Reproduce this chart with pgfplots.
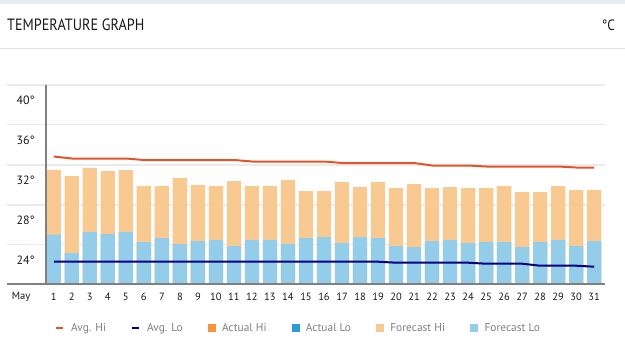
\documentclass[border=0pt]{standalone}
\usepackage{graphicx}
\usepackage{pgfplots}
\pgfplotsset{compat=1.18}
\usepackage{pgfplotstable}
\usepackage{fontspec}
\setmainfont{PT Sans}
\definecolor{hiC}{HTML}{F8C991}
\definecolor{loC}{HTML}{93CDEA}
\definecolor{avghiC}{HTML}{E5532A}
\definecolor{avgloC}{HTML}{000080}
\definecolor{acthiC}{HTML}{F7943C}
\definecolor{actloC}{HTML}{2E9AD0}
\definecolor{gridC}{HTML}{EBEBEB}
\definecolor{axisC}{HTML}{808080}
\definecolor{legC}{HTML}{808080}
\definecolor{bandC}{HTML}{E6ECF2}
\definecolor{sepC}{HTML}{E0E0E0}

\pgfplotstableread{
day hi lo avghi avglo
1 33.05 26.60 34.40 23.88
2 32.45 24.75 34.20 23.88
3 33.25 26.85 34.20 23.88
4 32.95 26.65 34.20 23.88
5 33.05 26.85 34.20 23.88
6 31.45 25.85 34.05 23.88
7 31.45 26.25 34.05 23.88
8 32.25 25.65 34.05 23.88
9 31.55 25.95 34.05 23.88
10 31.45 26.05 34.05 23.88
11 31.95 25.45 34.05 23.88
12 31.45 26.05 33.90 23.88
13 31.45 26.05 33.90 23.88
14 32.05 25.65 33.90 23.88
15 30.95 26.25 33.90 23.88
16 30.95 26.35 33.90 23.88
17 31.85 25.75 33.75 23.88
18 31.35 26.35 33.75 23.88
19 31.85 26.25 33.75 23.88
20 31.25 25.45 33.75 23.78
21 31.65 25.35 33.75 23.78
22 31.25 25.95 33.50 23.78
23 31.35 26.05 33.50 23.78
24 31.25 25.75 33.50 23.78
25 31.25 25.85 33.40 23.68
26 31.45 25.85 33.40 23.68
27 30.85 25.35 33.40 23.68
28 30.85 25.85 33.40 23.48
29 31.45 26.05 33.40 23.48
30 31.05 25.45 33.30 23.48
31 31.05 25.95 33.30 23.38
}\temps

\begin{document}
\begin{tikzpicture}[x=1bp,y=1bp]
\path[use as bounding box] (0,0) rectangle (625,353);
% header
\fill[bandC] (0,349) rectangle (625,353);
\node[anchor=west, inner sep=0pt, text=black!90] at (7,328) {\scalebox{1}[1.15]{\fontsize{14.2bp}{16bp}\selectfont TEMPERATURE GRAPH}};
\node[anchor=east, inner sep=0pt, text=black!90] at (615,328) {\scalebox{1}[1.15]{\fontsize{13bp}{15bp}\selectfont °C}};
\draw[sepC, line width=1bp] (0,304.3) -- (625,304.3);
% grid lines
\foreach \yy in {268,228.7,188,148,108.7}{\draw[gridC, line width=1.5bp] (7,\yy) -- (605,\yy);}
\node[anchor=center, inner sep=0pt, text=black!90] at (21,56) {\fontsize{10.5bp}{12bp}\selectfont May};
\begin{axis}[
  at={(45.5bp,68.7bp)}, anchor=south west,
  width=559.5bp, height=199.3bp, scale only axis,
  xmin=0.54, xmax=31.6, ymin=21.62, ymax=41.55,
  axis line style={draw=none},
  major tick length=0pt,
  xtick={1,...,31},
  ytick={24,28,32,36,40},
  yticklabels={24°,28°,32°,36°,40°},
  /pgf/number format/assume math mode=true,
  xticklabel style={inner sep=0pt, anchor=north, yshift=-8.5bp, font=\fontsize{10.5bp}{12bp}\selectfont, text=black!90},
  yticklabel style={inner sep=0pt, anchor=east, xshift=-10.5bp, font=\fontsize{12bp}{14bp}\selectfont, text=black!90},
  legend columns=6,
  legend style={at={(0.017,-0.219)}, anchor=west, draw=none, fill=none, inner sep=0pt,
    font=\fontsize{11.4bp}{13bp}\selectfont, text=legC,
    /tikz/every odd column/.append style={column sep=5bp},
    /tikz/every even column/.append style={column sep=23bp}},
  legend cell align=left,
]
\addplot[ybar, bar width=14.3bp, bar shift=0pt, fill=hiC, draw=none, forget plot] table[x=day,y=hi]{\temps};
\addplot[ybar, bar width=14.3bp, bar shift=0pt, fill=loC, draw=none, forget plot] table[x=day,y=lo]{\temps};
\addplot[avghiC, line width=2bp, forget plot] table[x=day,y=avghi]{\temps};
\addplot[avgloC, line width=2bp, forget plot] table[x=day,y=avglo]{\temps};
\addlegendimage{legend image code/.code={\draw[avghiC, line width=2bp] (0bp,0bp) -- (7bp,0bp);}}
\addlegendentry{Avg. Hi}
\addlegendimage{legend image code/.code={\draw[avgloC, line width=2bp] (0bp,0bp) -- (7bp,0bp);}}
\addlegendentry{Avg. Lo}
\addlegendimage{legend image code/.code={\fill[acthiC] (0bp,-3.5bp) rectangle (7bp,3.5bp);}}
\addlegendentry{Actual Hi}
\addlegendimage{legend image code/.code={\fill[actloC] (0bp,-3.5bp) rectangle (7bp,3.5bp);}}
\addlegendentry{Actual Lo}
\addlegendimage{legend image code/.code={\fill[hiC] (0bp,-3.5bp) rectangle (7bp,3.5bp);}}
\addlegendentry{Forecast Hi}
\addlegendimage{legend image code/.code={\fill[loC] (0bp,-3.5bp) rectangle (7bp,3.5bp);}}
\addlegendentry{Forecast Lo}
\end{axis}
\draw[axisC, line width=2bp] (45.7,268) -- (45.7,68.7);
\draw[axisC, line width=2bp] (7,68.7) -- (605,68.7);
\end{tikzpicture}
\end{document}
